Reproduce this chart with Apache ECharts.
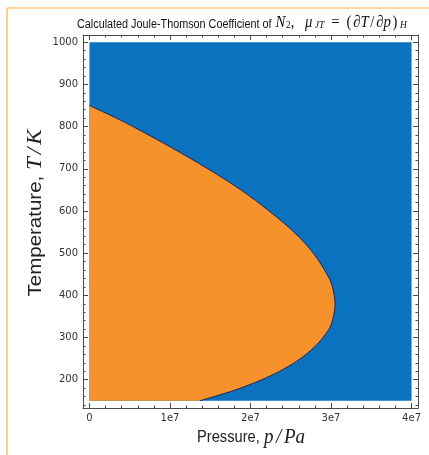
<!DOCTYPE html>
<html><head><meta charset="utf-8">
<script src="https://cdn.jsdelivr.net/npm/echarts@6/dist/echarts.min.js"></script>
<style>
html,body{margin:0;padding:0;background:#fff;overflow:hidden;width:429px;height:455px}
#c{position:absolute;left:0;top:0;width:429px;height:455px}
</style></head>
<body><div id="c"></div>
<script>
// ---- data ----
// inversion curve: temperature (K) and pressure (units of 1e7 Pa)
const curveT = [150,175,200,225,250,275,300,325,350,375,400,425,450,500,550,600,650,700,750,800,825,850];
const curveP = [1.37,1.80,2.14,2.41,2.62,2.78,2.90,2.99,3.03,3.05,3.04,3.01,2.95,2.78,2.54,2.23,1.88,1.47,1.02,0.54,0.28,0.0];
const pRange = [0, 4e7];           // Pa
const TRange = [150, 1000];        // K
const xTicks = [0, 1e7, 2e7, 3e7, 4e7];
const xTickLabels = ['0', '1e7', '2e7', '3e7', '4e7'];
const yTicks = [200, 300, 400, 500, 600, 700, 800, 900, 1000];
const yTickLabels = ['200', '300', '400', '500', '600', '700', '800', '900', '1000'];
const labelP = [1.0e7, 3.48e7];
const labelT = [500, 800];
const labelText = ['{m|μ}{u| > 0}', '{m|μ}{u| < 0}'];
const titleText = '{t|Calculated Joule-Thomson Coefficient of }{m|N}{n|2}{c|,}{m|μ}{s|JT}{e|=}{u|(}{m|∂T}{u|/}{m|∂p}{u|)}{s|H}';
const xName = '{a|Pressure, }{b|p}{c|/}{b|Pa}';
const yName = '{a|Temperature, }{b|T}{c|/}{b|K}';

// ---- styling ----
const BLUE = '#0a72bf', ORANGE = '#f5922b', EDGE = '#2a2148', FRAME = '#4a4a4a', BORDER = '#fcc67c';
const xMin = -0.08e7, xMax = 4.08e7, yMin = 133, yMax = 1017;
const xMinor = []; for (let v = 0; v <= 4e7 + 1; v += 0.2e7) xMinor.push(Math.round(v));
const yMinor = []; for (let v = 140; v <= 1000; v += 20) yMinor.push(v);

const chart = echarts.init(document.getElementById('c'));
const serif = 'Liberation Serif';
const sans = 'DejaVu Sans';
const lsans = 'Liberation Sans';

function xAx(pos, ticks, len, labels, line) {
  return {
    type: 'value', position: pos, min: xMin, max: xMax, gridIndex: 0,
    axisLine: {show: line, onZero: false, lineStyle: {color: FRAME, width: 1}},
    axisTick: {show: true, inside: true, length: len, customValues: ticks, lineStyle: {color: FRAME, width: 1}},
    axisLabel: labels ? {show: true, customValues: xTicks, formatter: v => xTickLabels[xTicks.indexOf(v)], fontFamily: sans, fontSize: 10, color: '#333', margin: 5} : {show: false},
    splitLine: {show: false}
  };
}
function yAx(pos, ticks, len, labels, line) {
  return {
    type: 'value', position: pos, min: yMin, max: yMax, gridIndex: 0,
    axisLine: {show: line, onZero: false, lineStyle: {color: FRAME, width: 1}},
    axisTick: {show: true, inside: true, length: len, customValues: ticks, lineStyle: {color: FRAME, width: 1}},
    axisLabel: labels ? {show: true, customValues: yTicks, formatter: v => yTickLabels[yTicks.indexOf(v)], fontFamily: sans, fontSize: 10, color: '#333', margin: 5} : {show: false},
    splitLine: {show: false}
  };
}

const curveData = curveT.map((t, i) => [curveP[i] * 1e7, t]);

// smooth path through pixel points (rendering only)
function smoothPath(pts) {
  let d = 'M' + pts[0][0] + ' ' + pts[0][1];
  for (let i = 0; i < pts.length - 1; i++) {
    const p0 = pts[Math.max(i - 1, 0)], p1 = pts[i], p2 = pts[i + 1], p3 = pts[Math.min(i + 2, pts.length - 1)];
    const c1 = [p1[0] + (p2[0] - p0[0]) / 6, p1[1] + (p2[1] - p0[1]) / 6];
    const c2 = [p2[0] - (p3[0] - p1[0]) / 6, p2[1] - (p3[1] - p1[1]) / 6];
    d += ' C' + c1[0] + ' ' + c1[1] + ' ' + c2[0] + ' ' + c2[1] + ' ' + p2[0] + ' ' + p2[1];
  }
  return d;
}

const TS = {
  t: {fontFamily: lsans, fontSize: 12.5, color: '#111', lineHeight: 20, verticalAlign: 'bottom'},
  m: {fontFamily: serif, fontStyle: 'italic', fontSize: 17, color: '#111', lineHeight: 20, verticalAlign: 'bottom', padding: [0, 1, 0, 1]},
  u: {fontFamily: serif, fontSize: 17, color: '#111', lineHeight: 20, verticalAlign: 'bottom', padding: [0, 1, 0, 1]},
  c: {fontFamily: serif, fontSize: 17, color: '#111', lineHeight: 20, verticalAlign: 'bottom', padding: [0, 11, 0, 0]},
  e: {fontFamily: serif, fontSize: 17, color: '#111', lineHeight: 20, verticalAlign: 'bottom', padding: [0, 7, 0, 8]},
  s: {fontFamily: serif, fontStyle: 'italic', fontSize: 11, color: '#111', lineHeight: 11, verticalAlign: 'bottom', padding: [0, 0, 0, 2]},
  n: {fontFamily: serif, fontSize: 11, color: '#111', lineHeight: 11, verticalAlign: 'bottom'}
};
const NS = {
  a: {fontFamily: lsans, fontSize: 17, color: '#222', lineHeight: 24},
  b: {fontFamily: serif, fontStyle: 'italic', fontSize: 22, color: '#222', lineHeight: 24},
  c: {fontFamily: serif, fontStyle: 'italic', fontSize: 22, color: '#222', lineHeight: 24, padding: [0, 3, 0, 3]}
};
const YS = {
  a: {fontFamily: lsans, fontSize: 20.5, color: '#222', lineHeight: 26},
  b: {fontFamily: serif, fontStyle: 'italic', fontSize: 23, color: '#222', lineHeight: 26},
  c: {fontFamily: serif, fontStyle: 'italic', fontSize: 23, color: '#222', lineHeight: 26, padding: [0, 3, 0, 3]}
};

chart.setOption({
  animation: false,
  backgroundColor: 'transparent',
  graphic: [
    {type: 'line', shape: {x1: 7, y1: 8, x2: 429, y2: 8}, style: {stroke: BORDER, lineWidth: 1.6}, silent: true},
    {type: 'line', shape: {x1: 7, y1: 8, x2: 7, y2: 455}, style: {stroke: BORDER, lineWidth: 1.6}, silent: true},
    {type: 'text', x: 77, y: 11, scaleX: 0.865, silent: true, style: {text: titleText, rich: TS, fill: '#111'}},
    {type: 'text', x: 251, y: 437, scaleX: 0.865, silent: true, style: {text: xName, rich: NS, align: 'center', verticalAlign: 'middle', fill: '#222'}},
    {type: 'text', x: 36, y: 213, rotation: Math.PI / 2, scaleY: 0.865, silent: true, style: {text: yName, rich: YS, align: 'center', verticalAlign: 'middle', fill: '#222'}}
  ],
  grid: {left: 83, top: 35, right: 11, bottom: 47, containLabel: false},
  xAxis: [xAx('bottom', xTicks, 5, true, true), xAx('bottom', xMinor, 2.5, false, false), xAx('top', xTicks, 5, false, true), xAx('top', xMinor, 2.5, false, false)],
  yAxis: [yAx('left', yTicks, 5, true, true), yAx('left', yMinor, 2.5, false, false), yAx('right', yTicks, 5, false, true), yAx('right', yMinor, 2.5, false, false)],
  series: [
    {
      type: 'custom', xAxisIndex: 0, yAxisIndex: 0, z: 1,
      data: [[pRange[0], TRange[0], pRange[1], TRange[1]]],
      encode: {x: [0, 2], y: [1, 3]},
      renderItem(params, api) {
        const a = api.coord([api.value(0), api.value(1)]);
        const b = api.coord([api.value(2), api.value(3)]);
        return {type: 'rect', shape: {x: a[0], y: b[1], width: b[0] - a[0], height: a[1] - b[1]}, style: {fill: BLUE}};
      }
    },
    {
      type: 'custom', xAxisIndex: 0, yAxisIndex: 0, z: 2,
      data: [[0, TRange[0]]],
      encode: {x: 0, y: 1},
      renderItem(params, api) {
        const pts = curveData.map(d => api.coord(d));
        const base = api.coord([0, curveT[0]]);
        const curve = smoothPath(pts);
        return {
          type: 'group',
          children: [
            {type: 'path', shape: {pathData: curve + ' L' + base[0] + ' ' + base[1] + ' Z'}, style: {fill: ORANGE, stroke: null}},
            {type: 'path', shape: {pathData: curve}, style: {fill: null, stroke: EDGE, lineWidth: 1}}
          ]
        };
      }
    },
    {
      type: 'scatter', xAxisIndex: 0, yAxisIndex: 0, z: 4,
      data: labelP.map((p, i) => [p, labelT[i]]),
      symbolSize: 1, itemStyle: {opacity: 0},
      label: {
        show: true, position: 'inside',
        formatter: p => labelText[p.dataIndex],
        rich: {
          m: {fontFamily: serif, fontStyle: 'italic', fontSize: 13, color: '#1a1a1a'},
          u: {fontFamily: serif, fontSize: 13, color: '#1a1a1a'}
        }
      }
    }
  ]
});
</script>
</body></html>
